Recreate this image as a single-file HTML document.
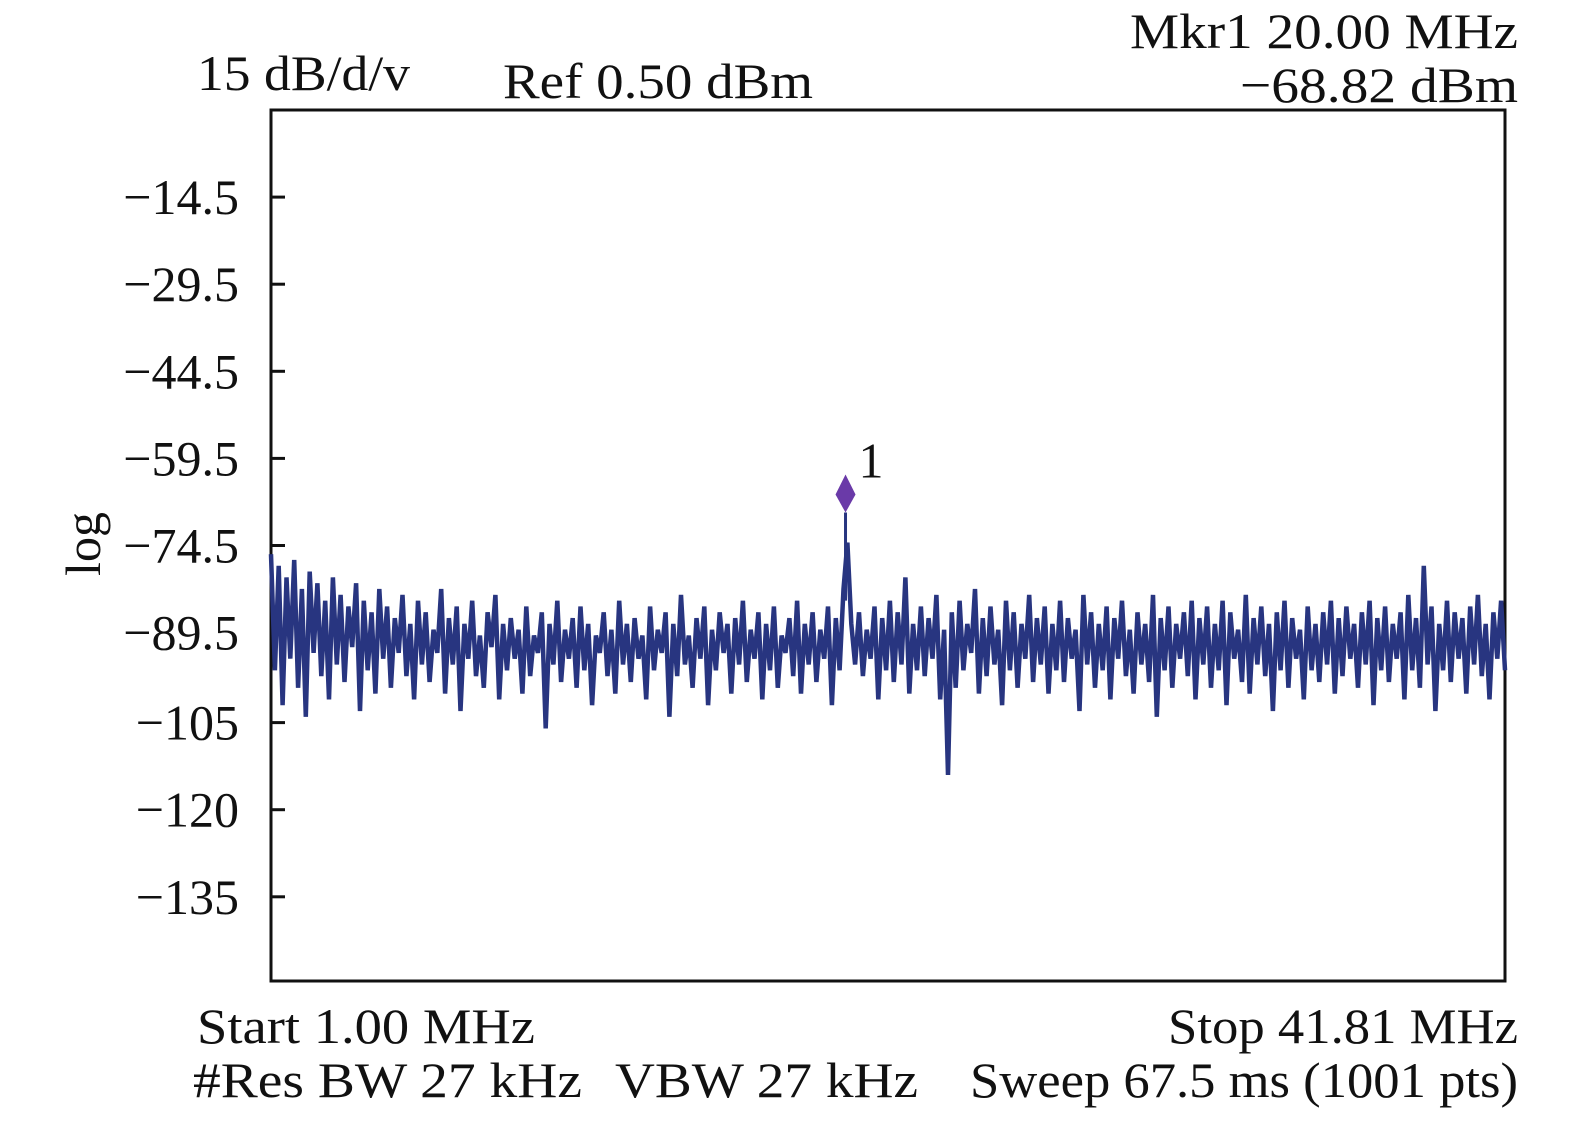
<!DOCTYPE html>
<html><head><meta charset="utf-8"><style>
html,body{margin:0;padding:0;background:#fff;}
svg text{font-family:"Liberation Serif",serif;fill:#111;}
</style></head><body>
<svg id="chart" width="1575" height="1122" viewBox="0 0 1575 1122" xmlns="http://www.w3.org/2000/svg">
<text x="197" y="90" font-size="50" textLength="213" lengthAdjust="spacingAndGlyphs">15 dB/d/v</text>
<text x="503" y="98" font-size="50" textLength="310" lengthAdjust="spacingAndGlyphs">Ref 0.50 dBm</text>
<text x="1130" y="48" font-size="50" textLength="388" lengthAdjust="spacingAndGlyphs">Mkr1 20.00 MHz</text>
<text x="1240" y="102" font-size="50" textLength="278" lengthAdjust="spacingAndGlyphs">−68.82 dBm</text>
<text x="0" y="0" font-size="50" text-anchor="middle" transform="translate(100,544) rotate(-90)">log</text>
<g id="yticks"></g>
<rect x="271" y="110" width="1234" height="871" fill="none" stroke="#111" stroke-width="3"/>
<g id="trace"></g>
<text x="197" y="1043" font-size="50" textLength="338" lengthAdjust="spacingAndGlyphs">Start 1.00 MHz</text>
<text x="1168" y="1043" font-size="50" textLength="350" lengthAdjust="spacingAndGlyphs">Stop 41.81 MHz</text>
<text x="193" y="1097" font-size="50" textLength="389" lengthAdjust="spacingAndGlyphs">#Res BW 27 kHz</text>
<text x="615" y="1097" font-size="50" textLength="303" lengthAdjust="spacingAndGlyphs">VBW 27 kHz</text>
<text x="970" y="1097" font-size="50" textLength="548" lengthAdjust="spacingAndGlyphs">Sweep 67.5 ms (1001 pts)</text>
</svg>
<script>
const yTickValues = [-14.5,-29.5,-44.5,-59.5,-74.5,-89.5,-105,-120,-135];
const yTickLabels = ["−14.5","−29.5","−44.5","−59.5","−74.5","−89.5","−105","−120","−135"];
const freqStart = 1.00;
const freqStop = 41.81;
const refLevel = 0.5;
const bottomLevel = -149.5;
const markerFreq = 20.00;
const markerLevel = -68.82;
const markerSpikeTop = -74;
const traceValues = [
-76,-96,-78,-102,-80,-94,-77,-99,-82,-104,-79,-93,-81,-97,-84,-101,-80,-95,-83,-98,-85,-92,-81,-103,-84,-96,-86,-100,-82,-94,-85,-99,-87,-93,-83,-97,-88,-101,-84,-95,
-86,-98,-89,-93,-82,-100,-87,-95,-85,-103,-88,-94,-84,-97,-90,-99,-86,-92,-83,-101,-88,-96,-87,-94,-89,-100,-85,-97,-90,-93,-86,-106,-88,-95,-84,-98,-89,-94,-87,-99,
-85,-96,-88,-102,-90,-93,-86,-97,-89,-100,-84,-95,-88,-98,-87,-94,-90,-101,-85,-96,-89,-93,-86,-104,-88,-97,-83,-95,-90,-99,-87,-94,-85,-102,-89,-96,-86,-93,-88,-100,
-87,-95,-84,-98,-89,-94,-86,-101,-88,-96,-85,-99,-90,-93,-87,-97,-84,-100,-88,-95,-86,-98,-89,-94,-85,-102,-87,-96,-82,-74,-88,-95,-86,-97,-89,-94,-85,-101,-87,-96,
-84,-98,-86,-95,-80,-100,-88,-96,-85,-97,-87,-94,-83,-101,-89,-114,-86,-99,-84,-96,-88,-93,-82,-100,-87,-97,-85,-95,-89,-102,-84,-96,-86,-99,-88,-94,-83,-98,-87,-95,
-85,-100,-88,-96,-84,-98,-87,-94,-89,-103,-83,-95,-86,-99,-88,-96,-85,-101,-87,-94,-84,-97,-89,-100,-86,-95,-88,-98,-83,-104,-87,-96,-85,-99,-88,-94,-86,-97,-84,-101,
-87,-95,-85,-99,-88,-96,-84,-102,-86,-94,-89,-98,-83,-100,-87,-95,-85,-97,-88,-103,-86,-96,-84,-99,-87,-94,-89,-101,-85,-96,-88,-98,-86,-95,-84,-100,-87,-97,-85,-94,
-88,-99,-86,-95,-84,-102,-87,-96,-85,-98,-88,-94,-86,-101,-83,-96,-87,-99,-78,-95,-85,-103,-88,-96,-84,-98,-86,-94,-87,-100,-85,-95,-83,-97,-88,-101,-86,-94,-84,-96
];
const NS='http://www.w3.org/2000/svg';
const L=271,R=1505,T=110,B=981;
const yS=v=>T+(refLevel-v)/(refLevel-bottomLevel)*(B-T);
const xF=f=>L+(f-freqStart)/(freqStop-freqStart)*(R-L);
const xI=i=>L+i/(traceValues.length-1)*(R-L);
const yt=document.getElementById('yticks');
yTickValues.forEach((v,i)=>{
  const y=yS(v);
  const ln=document.createElementNS(NS,'line');
  
  
  ln.setAttribute('x1',L);ln.setAttribute('x2',L+14);ln.setAttribute('y1',y);ln.setAttribute('y2',y);
  ln.setAttribute('stroke','#111');ln.setAttribute('stroke-width','3');
  yt.appendChild(ln);
  const t=document.createElementNS(NS,'text');
  
  
  t.setAttribute('x',239);t.setAttribute('y',y+17);t.setAttribute('font-size','50');t.setAttribute('text-anchor','end');
  t.textContent=yTickLabels[i];
  yt.appendChild(t);
});
const tr=document.getElementById('trace');
const pl=document.createElementNS(NS,'polyline');


pl.setAttribute('points',traceValues.map((v,i)=>xI(i).toFixed(1)+','+yS(v).toFixed(1)).join(' '));
pl.setAttribute('fill','none');pl.setAttribute('stroke','#283580');pl.setAttribute('stroke-width','4.5');pl.setAttribute('stroke-linejoin','miter');
tr.appendChild(pl);
const mx=xF(markerFreq), my=yS(markerLevel);
const ml=document.createElementNS(NS,'line');


ml.setAttribute('x1',mx);ml.setAttribute('x2',mx);ml.setAttribute('y1',my);ml.setAttribute('y2',yS(markerSpikeTop-10));
ml.setAttribute('stroke','#283580');ml.setAttribute('stroke-width','3');
tr.appendChild(ml);
const dm=document.createElementNS(NS,'polygon');


dm.setAttribute('points',`${mx},${my} ${mx-10},${my-18} ${mx},${my-38} ${mx+10},${my-18}`);
dm.setAttribute('fill','#6a3aa8');
tr.appendChild(dm);
const mt=document.createElementNS(NS,'text');


mt.setAttribute('x',mx+13);mt.setAttribute('y',my-35);mt.setAttribute('font-size','50');
mt.textContent='1';
tr.appendChild(mt);
</script>
</body></html>
